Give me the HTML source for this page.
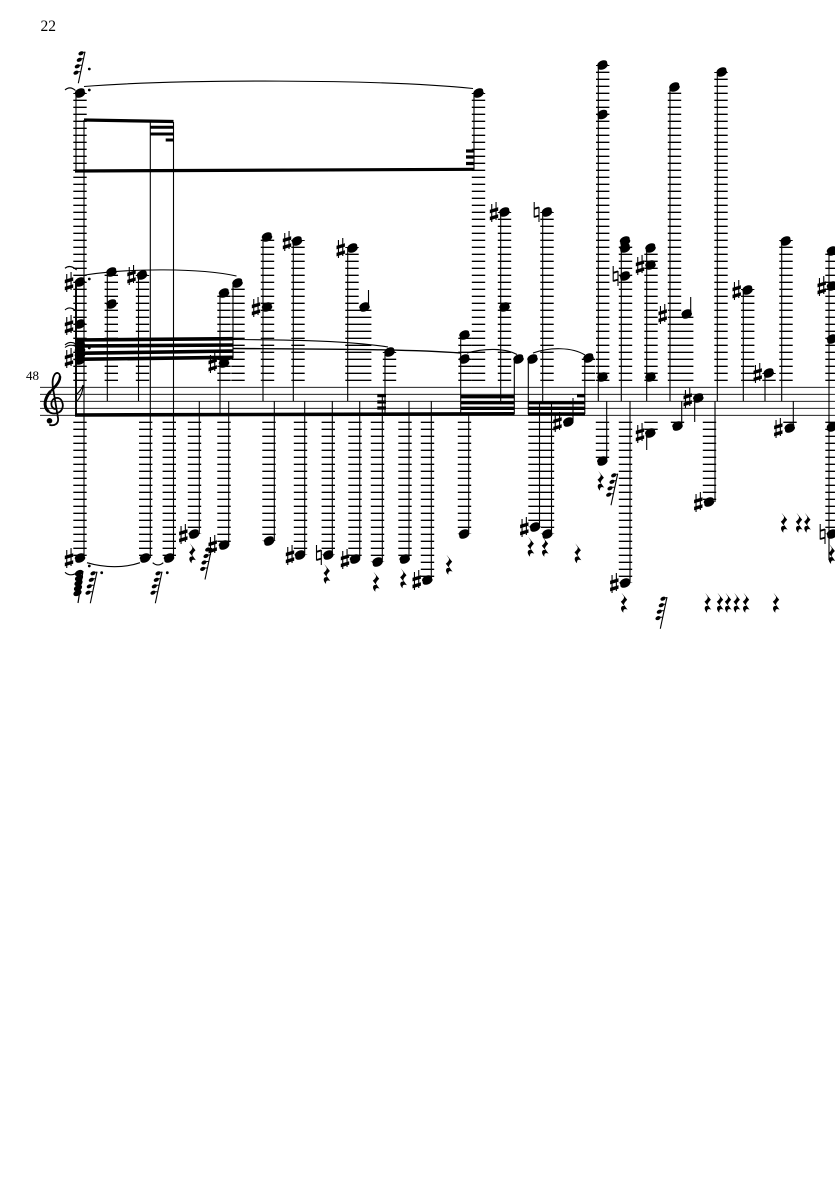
<!DOCTYPE html>
<html>
<head>
<meta charset="utf-8">
<title>Score page 22</title>
<style>
html,body{margin:0;padding:0;background:#fff;}
svg{display:block;}
</style>
</head>
<body>
<svg xmlns="http://www.w3.org/2000/svg" width="835" height="1181" viewBox="0 0 835 1181">
<defs>
<path id="n" d="M-4.6 1.8a5.3 3.2-25 1 0 9.2-3.6a5.3 3.2-25 1 0-9.2 3.6z"/>
<path id="s" d="M-2.8-8h1.1v18h-1.1zM1.5-10h1.1v18h-1.1zM-4.2-2.2l8.4-2.6v3.6l-8.4 2.6zM-4.2 4.8l8.4-2.6v3.6l-8.4 2.6z"/>
<g id="h" fill="none" stroke="#000">
<path d="M-2.8-10V5.5M2-5V10" stroke-width="1.1"/>
<path d="M-2.8-3.2L2-4.6M-2.8 5L2 3.6" stroke-width="1.9"/>
</g>
<path id="r" d="M-2.5-10L3.2-3C1.3-1.2 0 .5 0 2L3.6 7C1.5 6-1.2 6-.6 10-4 7-3.8 2.8.2 3.2L-3.2-1C-.8-3 .2-4.5 0-6Z"/>
<g id="g">
<path d="M0 0L6.7-31.6" stroke="#000" stroke-width="1.1" fill="none"/>
<ellipse cx="2.7" cy="-30" rx="2.7" ry="1.9" transform="rotate(-25 2.7 -30)"/>
<ellipse cx="1" cy="-23.5" rx="2.7" ry="1.9" transform="rotate(-25 1 -23.5)"/>
<ellipse cx="-1" cy="-17" rx="2.7" ry="1.9" transform="rotate(-25 -1 -17)"/>
<ellipse cx="-2.3" cy="-10.6" rx="2.7" ry="1.9" transform="rotate(-25 -2.3 -10.6)"/>
<path d="M4-31h3M2.5-24.5h3M.8-18h3M-.8-11.5h3" stroke="#000" stroke-width="1" fill="none"/>
</g>
</defs>

<text x="40.5" y="31" font-family="'Liberation Serif',serif" font-size="15.5">22</text>
<text x="26" y="380" font-family="'Liberation Serif',serif" font-size="13">48</text>

<!-- staff -->
<path d="M40 387.3H835M40 394.3H835M40 401.3H835M40 408.3H835M40 415.3H835" stroke="#000" stroke-width=".9" fill="none"/>

<!-- clef -->
<g fill="none" stroke="#000" stroke-linecap="round">
<path d="M55 409C50 408 50 399 56 398C62 397 64 405 62 409C60 414 52 415 48 411C43 406 45 398 50 392C54 387 60 382 60 377C60 373 57 372 55 374C52 378 52 384 54 394L58 418C59 424 54 426 50 425" stroke-width="1.8"/>
<path d="M48 411C43 406 45 398 50 392" stroke-width="3"/>
<path d="M60 377C60 382 55 387 52 390" stroke-width="2.6"/>
</g>
<circle cx="49.5" cy="420.8" r="2.8"/>

<!-- ledger lines above staff -->
<path fill="none" stroke="#000" stroke-width="13.4" stroke-dasharray="1.3 5.7" d="M80 380.95V93M111.3 380.95V272M142.5 380.95V275M224 380.95V293M238 380.95V283M267.5 380.95V236M298 380.95V240M352 380.95V247M364.7 380.95V307M389.5 380.95V352M465 380.95V335M478.5 380.95V93M504.5 380.95V212M547 380.95V212M588.5 380.95V358M602.7 380.95V65M625.5 380.95V241M651 380.95V248M674.5 380.95V87M686.7 380.95V314M721 380.95V72M747.7 380.95V289M769 380.95V373M786 380.95V240M832 380.95V250"/>
<!-- ledger lines below staff -->
<path fill="none" stroke="#000" stroke-width="13.4" stroke-dasharray="1.3 5.7" d="M80 421.65V558M145.7 421.65V558M169.3 421.65V558M194.5 421.65V534M224 421.65V545M269 421.65V541M300.5 421.65V555M328.3 421.65V555M355 421.65V558M377.5 421.65V562M405 421.65V558M427.5 421.65V580M464.5 421.65V534M535 421.65V527M547.5 421.65V534M602.5 421.65V460M625.5 421.65V583M651 421.65V430M677.5 421.65V425M709.5 421.65V502M790 421.65V428M832 421.65V534"/>

<!-- stems -->
<path fill="none" stroke="#000" stroke-width="1.1" d="M76 93V171M84 120V558M107.3 272V401M138.5 275V401M150.3 122V558M173.5 122V558M199.3 401V534M220 293V415M228.7 401V545M233 283V358M263 237V401M274.3 401V541M293.3 241V401M304.7 401V555M332.3 401V555M347.7 248V401M359.7 401V558M368.5 290V307M382.3 396V562M385 352V414M409 401V558M431.3 401V580M460.7 335V414M468.7 414V534M474 93V170M500.7 212V401M514.3 359V414M528.3 359V414M539.5 401V527M542.7 212V401M551.5 401V534M573 398V421M584.8 358V414M598.3 65V401M606.7 401V460M621.3 241V401M630 401V583M646.7 248V401M646.7 433V450M670 87V401M681.7 401V425M690.7 297V314M694.7 398V422M717.3 72V401M715 401V502M743.3 290V401M765 373V401M781.7 241V401M793.3 401V428M829 251V560"/>
<path fill="none" stroke="#000" stroke-width="1.9" d="M76 282V415"/>
<!-- flag on the first stem -->
<path d="M76 402C80 398 83 392 83 385M76 395C79 392 82 389 83 385" stroke="#000" stroke-width="1.1" fill="none"/>

<!-- beams -->
<g stroke="#000" fill="none">
<path stroke-width="3.2" d="M84 120L173.5 121.5M75 171L474 169.3"/>
<path stroke-width="3.6" d="M75 415L514.5 413.8"/>
<path stroke-width="3" d="M150 127.3H173.5M150 134H173.5M165.7 140H173.5"/>
<path stroke-width="3.2" d="M466 151H474M466 157H474M466 163.5H474"/>
<path stroke-width="3.6" d="M75 340L233.3 338.7M75 346L233.3 345M75 353.3L233.3 351M75 359.3L233.3 357.3"/>
<path stroke-width="3.2" d="M377.3 395.7H386M377.3 402H386M377.3 408H386"/>
<path stroke-width="3.4" d="M460.7 396.7H514.5M460.7 402.7H514.5M460.7 408.3H514.5"/>
<path stroke-width="3.4" d="M528 402.7H585M528 408.3H585M528 414H585M577 395.7H585"/>
</g>

<!-- slurs and ties -->
<g fill="none" stroke="#000" stroke-width="1.1">
<path d="M84 86.5C180 79 380 79 473 88.5"/>
<path d="M85 275C130 268 200 268 236.5 276"/>
<path d="M233 339.5C300 340 350 341 388 347"/>
<path stroke-width="1.4" d="M233 348.5C320 349 410 349 461 353"/>
<path d="M467 353C485 348 505 348 517 354.5"/>
<path d="M533 353C550 347 572 347 585 355"/>
<path d="M87 562.7C105 568 125 568 140 562.7"/>
<path d="M152.7 562.7C156 565.7 160 565.7 163.3 562.7"/>
<path d="M65 90Q70 85.5 75.5 90.5M65 268.3Q70 264 76.7 270M65 310Q70 305.5 76 311M65 345Q70 340.5 76 344M65 347.5Q70 343.5 76 346.5M65 572.3Q70 577 76.7 573"/>
</g>

<!-- dots -->
<g>
<circle cx="89.3" cy="69" r="1.4"/><circle cx="89.3" cy="90" r="1.4"/><circle cx="89.3" cy="279" r="1.4"/><circle cx="89.3" cy="348" r="1.4"/><circle cx="89.3" cy="566" r="1.4"/><circle cx="101.7" cy="572.7" r="1.4"/><circle cx="167.3" cy="572.7" r="1.4"/>
</g>

<!-- noteheads -->
<g>
<use href="#n" x="80" y="93"/><use href="#n" x="80" y="282"/><use href="#n" x="80" y="324"/><use href="#n" x="80" y="345"/><use href="#n" x="80" y="350"/><use href="#n" x="80" y="355"/><use href="#n" x="80" y="360"/><use href="#n" x="80" y="558"/>
<use href="#n" x="111.5" y="272"/><use href="#n" x="111.5" y="304"/><use href="#n" x="142" y="275"/><use href="#n" x="224" y="293"/><use href="#n" x="224" y="363"/><use href="#n" x="237.5" y="283"/><use href="#n" x="267" y="237"/><use href="#n" x="267" y="307"/><use href="#n" x="297" y="241"/><use href="#n" x="352.5" y="248"/><use href="#n" x="364.5" y="307"/><use href="#n" x="389.5" y="352"/><use href="#n" x="464.5" y="335"/><use href="#n" x="464.5" y="359"/><use href="#n" x="478.5" y="93"/><use href="#n" x="504.5" y="212"/><use href="#n" x="504.5" y="307"/><use href="#n" x="518.5" y="359"/><use href="#n" x="532.5" y="359"/><use href="#n" x="547" y="212"/><use href="#n" x="588.5" y="358"/><use href="#n" x="602.5" y="65"/><use href="#n" x="602.5" y="114.5"/><use href="#n" x="602.5" y="377"/><use href="#n" x="625" y="241"/><use href="#n" x="625" y="248"/><use href="#n" x="625" y="276"/><use href="#n" x="650.5" y="248"/><use href="#n" x="650.5" y="265"/><use href="#n" x="650.5" y="377"/><use href="#n" x="674.5" y="87"/><use href="#n" x="686.7" y="314"/><use href="#n" x="721.7" y="72"/><use href="#n" x="747.5" y="290"/><use href="#n" x="768.7" y="373"/><use href="#n" x="785.7" y="241"/><use href="#n" x="832" y="251"/><use href="#n" x="832" y="286"/><use href="#n" x="832" y="339"/>
<use href="#n" x="145" y="558"/><use href="#n" x="169" y="558"/><use href="#n" x="194" y="534"/><use href="#n" x="224" y="545"/><use href="#n" x="269" y="541"/><use href="#n" x="300" y="555"/><use href="#n" x="328.3" y="555"/><use href="#n" x="355" y="559"/><use href="#n" x="377.5" y="562"/><use href="#n" x="404.7" y="559"/><use href="#n" x="427.3" y="580"/><use href="#n" x="464" y="534"/><use href="#n" x="535" y="527"/><use href="#n" x="547.3" y="534"/><use href="#n" x="568.3" y="422"/><use href="#n" x="602.3" y="461"/><use href="#n" x="625" y="583"/><use href="#n" x="650.3" y="433"/><use href="#n" x="677.5" y="426"/><use href="#n" x="698.3" y="398"/><use href="#n" x="709" y="502"/><use href="#n" x="789.7" y="428"/><use href="#n" x="832" y="427"/><use href="#n" x="832" y="534"/>
</g>

<!-- sharps -->
<g>
<use href="#s" x="69" y="282"/><use href="#s" x="69" y="325"/><use href="#s" x="69" y="358"/><use href="#s" x="69" y="558"/>
<use href="#s" x="131.5" y="275"/><use href="#s" x="212.7" y="363"/><use href="#s" x="256" y="307"/><use href="#s" x="287" y="241"/><use href="#s" x="340.7" y="248"/><use href="#s" x="494" y="212"/><use href="#s" x="640" y="265"/><use href="#s" x="662.7" y="314"/><use href="#s" x="687.7" y="398"/><use href="#s" x="736.7" y="290"/><use href="#s" x="757.7" y="373"/><use href="#s" x="821.7" y="286"/>
<use href="#s" x="183.3" y="534"/><use href="#s" x="212.7" y="545"/><use href="#s" x="290" y="555"/><use href="#s" x="345" y="559"/><use href="#s" x="416.7" y="580"/><use href="#s" x="524.3" y="527"/><use href="#s" x="557.5" y="422"/><use href="#s" x="640" y="433"/><use href="#s" x="614.3" y="583"/><use href="#s" x="698.3" y="502"/><use href="#s" x="778.3" y="428"/>
</g>

<!-- naturals -->
<g>
<use href="#h" x="537" y="212"/><use href="#h" x="616" y="276"/><use href="#h" x="319.3" y="555"/><use href="#h" x="823" y="534"/>
</g>

<!-- rests -->
<g>
<use href="#r" x="192.3" y="553.3"/><use href="#r" x="326.7" y="574"/><use href="#r" x="376" y="581.7"/><use href="#r" x="403.3" y="578.3"/><use href="#r" x="449" y="564.7"/><use href="#r" x="530.7" y="546.7"/><use href="#r" x="545" y="546.7"/><use href="#r" x="577.7" y="553.3"/><use href="#r" x="600.7" y="480.7"/><use href="#r" x="624" y="602.7"/><use href="#r" x="707.7" y="602.7"/><use href="#r" x="720" y="602.7"/><use href="#r" x="728" y="602.7"/><use href="#r" x="736.7" y="602.7"/><use href="#r" x="746" y="602.7"/><use href="#r" x="776" y="602.7"/><use href="#r" x="784" y="522.7"/><use href="#r" x="799" y="522.7"/><use href="#r" x="807.3" y="522.7"/><use href="#r" x="831.7" y="554"/>
</g>

<!-- grace note groups -->
<use href="#g" x="78.3" y="83.3"/><use href="#g" x="90.3" y="603.3"/><use href="#g" x="155.3" y="603.3"/><use href="#g" x="205" y="579.5"/><use href="#g" x="611" y="505.3"/><use href="#g" x="660.3" y="628.7"/>
<!-- dense grace cluster -->
<g>
<ellipse cx="79" cy="573" rx="4.4" ry="2.8" transform="rotate(-25 79 573)"/>
<ellipse cx="79" cy="578" rx="4.4" ry="2.8" transform="rotate(-25 79 578)"/>
<ellipse cx="78.5" cy="583" rx="4.4" ry="2.8" transform="rotate(-25 78.5 583)"/>
<ellipse cx="78" cy="588" rx="4.4" ry="2.8" transform="rotate(-25 78 588)"/>
<ellipse cx="77.5" cy="593" rx="4.4" ry="2.8" transform="rotate(-25 77.5 593)"/>
<path d="M83 571L78 603" stroke="#000" stroke-width="1.2" fill="none"/>
</g>
</svg>
</body>
</html>
